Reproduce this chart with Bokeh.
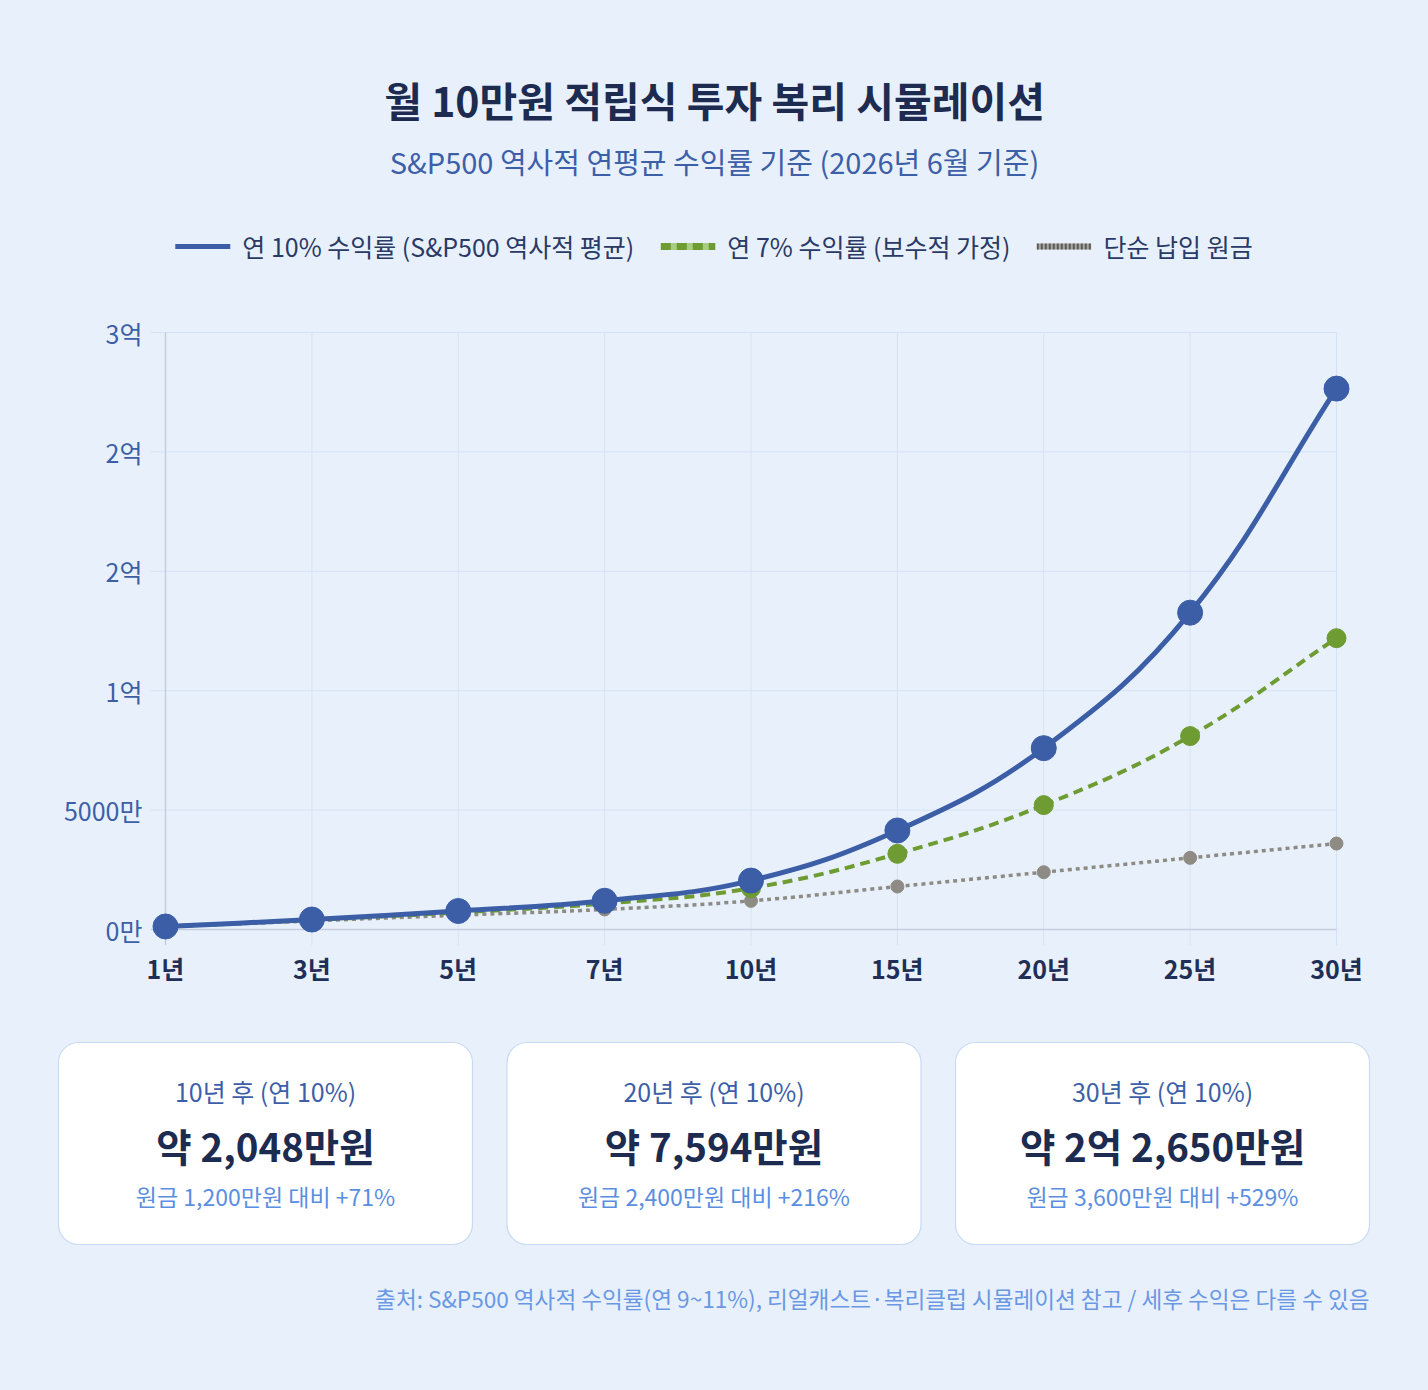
import math
from bokeh.plotting import figure
from bokeh.models import Range1d, FixedTicker, Legend, LegendItem
from bokeh.layouts import column
from bokeh.embed import file_html
from bokeh.resources import INLINE
from bokeh.core.properties import value

# ---------------- data ----------------
years = ["1년", "3년", "5년", "7년", "10년", "15년", "20년", "25년", "30년"]
rate10 = [126, 417, 774, 1203, 2048, 4145, 7594, 13268, 22650]   # 만원
rate7 = [124, 399, 716, 1086, 1730, 3170, 5209, 8100, 12200]     # 만원
principal = [120, 360, 600, 840, 1200, 1800, 2400, 3000, 3600]   # 만원
y_ticks = [0, 5000, 10000, 15000, 20000, 25000]
y_tick_labels = ["0만", "5000만", "1억", "2억", "2억", "3억"]

title_text = "월 10만원 적립식 투자 복리 시뮬레이션"
subtitle_text = "S&P500 역사적 연평균 수익률 기준 (2026년 6월 기준)"
legend_labels = ["연 10% 수익률 (S&P500 역사적 평균)", "연 7% 수익률 (보수적 가정)", "단순 납입 원금"]
card_titles = ["10년 후 (연 10%)", "20년 후 (연 10%)", "30년 후 (연 10%)"]
card_values = ["약 2,048만원", "약 7,594만원", "약 2억 2,650만원"]
card_notes = ["원금 1,200만원 대비 +71%", "원금 2,400만원 대비 +216%", "원금 3,600만원 대비 +529%"]
footnote_text = "출처: S&P500 역사적 수익률(연 9~11%), 리얼캐스트·복리클럽 시뮬레이션 참고 / 세후 수익은 다를 수 있음"

# ---------------- style ----------------
W = 1428
BG = "#e8f1fb"
FONT = "Noto Sans CJK KR"
NAVY = "#1c2b4f"
BLUE = "#3b5ea7"
GREEN = "#6e9b32"
GRAY = "#8e8b85"
GRID = "#d5e2f3"
AXIS = "#c3cedd"


def canvas(h):
    f = figure(width=W, height=h, x_range=Range1d(0, W), y_range=Range1d(h, 0),
               output_backend="svg", toolbar_location=None, frame_align=False,
               min_border_left=0, min_border_right=0,
               min_border_top=0, min_border_bottom=0,
               x_axis_location=None, y_axis_location=None)
    f.grid.visible = False
    f.outline_line_color = None
    f.background_fill_color = BG
    f.border_fill_color = BG
    return f


# ---------------- header ----------------
H_HEAD = 205
head = canvas(H_HEAD)
head.text(x=[W / 2], y=[98], text=[title_text], text_align="center", text_baseline="middle",
          text_font=value(FONT), text_font_size="41px", text_font_style="bold", text_color=NAVY)
head.text(x=[W / 2], y=[160], text=[subtitle_text], text_align="center", text_baseline="middle",
          text_font=value(FONT), text_font_size="29px", text_color="#3d5fa8")

# ---------------- legend ----------------
H_LEG = 82
leg = canvas(H_LEG)
idx = list(range(len(years)))
r_b = leg.line(x=idx, y=rate10, line_color=BLUE, line_width=5, line_cap="round", visible=False)
r_g0 = leg.line(x=idx, y=rate7, line_color="#a9cd80", line_width=7, visible=False)
r_g1 = leg.line(x=idx, y=rate7, line_color=GREEN, line_width=7, line_dash="10 6", visible=False)
r_p0 = leg.line(x=idx, y=principal, line_color="#a9a7a2", line_width=6, visible=False)
r_p1 = leg.line(x=idx, y=principal, line_color="#5c5b58", line_width=6, line_dash="2 2", visible=False)
legend = Legend(items=[LegendItem(label=legend_labels[0], renderers=[r_b]),
                       LegendItem(label=legend_labels[1], renderers=[r_g0, r_g1]),
                       LegendItem(label=legend_labels[2], renderers=[r_p0, r_p1])],
                orientation="horizontal", location="center",
                background_fill_alpha=0, border_line_color=None,
                inactive_fill_alpha=0,
                label_text_font=FONT, label_text_font_size="25px", label_text_color="#2a3a66",
                glyph_width=55, glyph_height=20, label_standoff=12, spacing=26,
                padding=0, margin=0)
leg.add_layout(legend)

# ---------------- chart ----------------
H_CHART = 1010 - H_HEAD - H_LEG
TOP_PAGE = H_HEAD + H_LEG
KX = (1336 - 165) / 8.0          # px per category step
KY = (929 - 332) / 25000.0       # px per 만원
FRAME_L, FRAME_R = 150, 1365
FRAME_B = 945
x0 = (FRAME_L - 165) / KX
x1 = 8 + (FRAME_R - 1336) / KX
y0 = (929 - FRAME_B) / KY
y1 = (929 - TOP_PAGE) / KY

p = figure(width=W, height=H_CHART, x_range=Range1d(x0, x1), y_range=Range1d(y0, y1),
           output_backend="svg", toolbar_location=None, frame_align=False,
           min_border_left=FRAME_L, min_border_right=W - FRAME_R,
           min_border_top=0, min_border_bottom=1010 - FRAME_B)
p.background_fill_color = None
p.border_fill_color = BG
p.outline_line_color = None
p.grid.visible = False

# grid lines
p.segment(x0=[x0] * (len(y_ticks) - 1), x1=[8] * (len(y_ticks) - 1), y0=y_ticks[1:], y1=y_ticks[1:],
          line_color=GRID, line_width=1)
p.segment(x0=idx[1:], x1=idx[1:], y0=[y0] * (len(idx) - 1), y1=[y_ticks[-1]] * (len(idx) - 1),
          line_color=GRID, line_width=1)
# axis borders
p.segment(x0=[x0], x1=[8], y0=[0], y1=[0], line_color=AXIS, line_width=1.5)
p.segment(x0=[0], x1=[0], y0=[y0], y1=[y_ticks[-1]], line_color=AXIS, line_width=1.5)

for ax in (p.xaxis[0], p.yaxis[0]):
    ax.axis_line_color = None
    ax.major_tick_line_color = None
    ax.minor_tick_line_color = None
    ax.major_tick_out = 0
    ax.major_tick_in = 0
    ax.minor_tick_out = 0
    ax.major_label_text_font = FONT

p.xaxis.ticker = FixedTicker(ticks=idx)
p.xaxis.major_label_overrides = {i: years[i] for i in idx}
p.xaxis.major_label_text_font_size = "25px"
p.xaxis.major_label_text_font_style = "bold"
p.xaxis.major_label_text_color = "#1f2f57"
p.xaxis.major_label_standoff = 4

p.yaxis.ticker = FixedTicker(ticks=y_ticks)
p.yaxis.major_label_overrides = {t: l for t, l in zip(y_ticks, y_tick_labels)}
p.yaxis.major_label_text_font_size = "25px"
p.yaxis.major_label_text_color = "#3d5fa8"
p.yaxis.major_label_standoff = 8


def smooth(vals, t=0.4):
    """Chart.js-style spline control points computed from the data points."""
    n = len(vals)
    X = [i * KX for i in range(n)]
    Y = [v * KY for v in vals]
    prv, nxt = [], []
    for i in range(n):
        a = i - 1 if i > 0 else i
        b = i + 1 if i < n - 1 else i
        d01 = math.hypot(X[i] - X[a], Y[i] - Y[a])
        d12 = math.hypot(X[b] - X[i], Y[b] - Y[i])
        tot = d01 + d12
        s01 = d01 / tot if tot else 0
        s12 = d12 / tot if tot else 0
        fa, fb = t * s01, t * s12
        prv.append((X[i] - fa * (X[b] - X[a]), Y[i] - fa * (Y[b] - Y[a])))
        nxt.append((X[i] + fb * (X[b] - X[a]), Y[i] + fb * (Y[b] - Y[a])))
    seg = dict(x0=[], y0=[], x1=[], y1=[], cx0=[], cy0=[], cx1=[], cy1=[])
    for i in range(n - 1):
        seg["x0"].append(i); seg["y0"].append(vals[i])
        seg["x1"].append(i + 1); seg["y1"].append(vals[i + 1])
        seg["cx0"].append(nxt[i][0] / KX); seg["cy0"].append(nxt[i][1] / KY)
        seg["cx1"].append(prv[i + 1][0] / KX); seg["cy1"].append(prv[i + 1][1] / KY)
    return seg


# principal (bottom)
p.bezier(**smooth(principal), line_color=GRAY, line_width=3.5, line_dash="4 4")
p.scatter(idx, principal, size=13, marker="circle", fill_color=GRAY, line_color=GRAY)
# 7%
p.bezier(**smooth(rate7), line_color=GREEN, line_width=4, line_dash="10 6")
p.scatter(idx, rate7, size=19, marker="circle", fill_color=GREEN, line_color=GREEN)
# 10% (top)
p.bezier(**smooth(rate10), line_color=BLUE, line_width=5)
p.scatter(idx, rate10, size=25, marker="circle", fill_color=BLUE, line_color=BLUE)

# ---------------- cards + footnote ----------------
H_CARD = 1390 - 1010
cards = canvas(H_CARD)
card_w, card_gap, card_x0 = 414, 34.5, 58
lefts = [card_x0 + i * (card_w + card_gap) for i in range(3)]
rights = [l + card_w for l in lefts]
centers = [l + card_w / 2 for l in lefts]
cards.quad(left=lefts, right=rights, top=[32] * 3, bottom=[234] * 3,
           fill_color="white", line_color="#c8daf2", line_width=1.2, border_radius=20)
cards.text(x=centers, y=[80] * 3, text=card_titles, text_align="center", text_baseline="middle",
           text_font=value(FONT), text_font_size="25px", text_color="#3d5fa8")
cards.text(x=centers, y=[134] * 3, text=card_values, text_align="center", text_baseline="middle",
           text_font=value(FONT), text_font_size="38.5px", text_font_style="bold", text_color=NAVY)
cards.text(x=centers, y=[185] * 3, text=card_notes, text_align="center", text_baseline="middle",
           text_font=value(FONT), text_font_size="23px", text_color="#5b8ee0")
cards.text(x=[1369], y=[288], text=[footnote_text], text_align="right", text_baseline="middle",
           text_font=value(FONT), text_font_size="22.6px", text_color="#6a98e4")

layout = column(head, leg, p, cards, spacing=0, styles={"background-color": BG})
open("out.html", "w").write(file_html(layout, INLINE))
